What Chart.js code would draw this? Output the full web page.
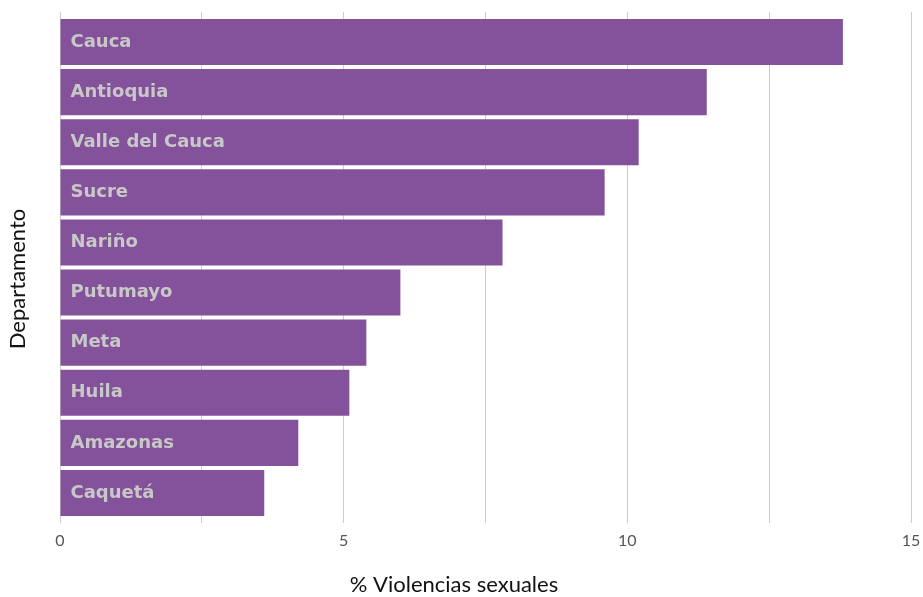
<!DOCTYPE html>
<html>
<head>
<meta charset="utf-8">
<script src="https://cdn.jsdelivr.net/npm/chart.js@4"></script>
<style>
  html, body { margin: 0; padding: 0; background: #fff; }
  #wrap { width: 923px; height: 597px; }
</style>
</head>
<body>
<div id="wrap"><canvas id="chart" width="923" height="597"></canvas></div>
<script>
const departamentos = ['Cauca', 'Antioquia', 'Valle del Cauca', 'Sucre', 'Nariño', 'Putumayo', 'Meta', 'Huila', 'Amazonas', 'Caquetá'];
const violencias = [13.8, 11.4, 10.2, 9.6, 7.8, 6.0, 5.4, 5.1, 4.2, 3.6];
const xTicks = [0, 5, 10, 15];
const xTitle = '% Violencias sexuales';
const yTitle = 'Departamento';

const barColor = '#84529a';
const gridColor = '#cccccc';

// nombres dentro de las barras
const barLabels = {
  id: 'barLabels',
  afterDatasetsDraw(chart) {
    const ctx = chart.ctx;
    const meta = chart.getDatasetMeta(0);
    ctx.save();
    ctx.fillStyle = '#c8c8c8';
    ctx.font = 'bold 18px "DejaVu Sans"';
    ctx.textBaseline = 'middle';
    ctx.textAlign = 'left';
    meta.data.forEach((bar, i) => {
      ctx.fillText(departamentos[i], bar.base + 10, bar.y);
    });
    ctx.restore();
  }
};

// titulos de los ejes (un poco corridos como en el original)
const axisTitles = {
  id: 'axisTitles',
  afterDraw(chart) {
    const ctx = chart.ctx;
    ctx.save();
    ctx.fillStyle = '#111';
    ctx.font = '22px Lato';
    ctx.textAlign = 'center';
    ctx.textBaseline = 'middle';
    ctx.fillText(xTitle, 454, 585);
    ctx.translate(18, 279);
    ctx.rotate(-Math.PI / 2);
    ctx.fillText(yTitle, 0, 0);
    ctx.restore();
  }
};

const config = {
  type: 'bar',
  data: {
    labels: departamentos,
    datasets: [{
      data: violencias,
      backgroundColor: barColor,
      borderWidth: 0,
      barPercentage: 0.92,
      categoryPercentage: 1
    }]
  },
  options: {
    indexAxis: 'y',
    responsive: false,
    animation: false,
    layout: { padding: { top: 12, right: 12, left: 0, bottom: 0 } },
    plugins: { legend: { display: false }, tooltip: { enabled: false } },
    scales: {
      x: {
        position: 'bottom',
        min: 0, max: 15,
        ticks: {
          stepSize: 2.5,
          padding: 8,
          color: '#555',
          font: { family: 'Lato', size: 16 },
          callback: (v) => xTicks.includes(v) ? String(v) : ''
        },
        grid: { color: gridColor, lineWidth: 1, tickLength: 5, tickColor: gridColor },
        border: { display: false },
        afterFit: (s) => { s.height = 79; s.paddingLeft = 0; s.paddingRight = 0; }
      },
      x2: {
        position: 'top',
        axis: 'x',
        min: 0, max: 15,
        ticks: { display: false, stepSize: 2.5 },
        grid: { drawOnChartArea: false, color: gridColor, tickLength: 5, tickColor: gridColor },
        border: { display: false },
        afterFit: (s) => { s.height = 5; s.paddingLeft = 0; s.paddingRight = 0; }
      },
      y: {
        ticks: { display: false },
        grid: { display: false },
        border: { display: false },
        afterFit: (s) => { s.width = 60; }
      }
    }
  },
  plugins: [barLabels, axisTitles]
};

new Chart(document.getElementById('chart'), config);
</script>
</body>
</html>
